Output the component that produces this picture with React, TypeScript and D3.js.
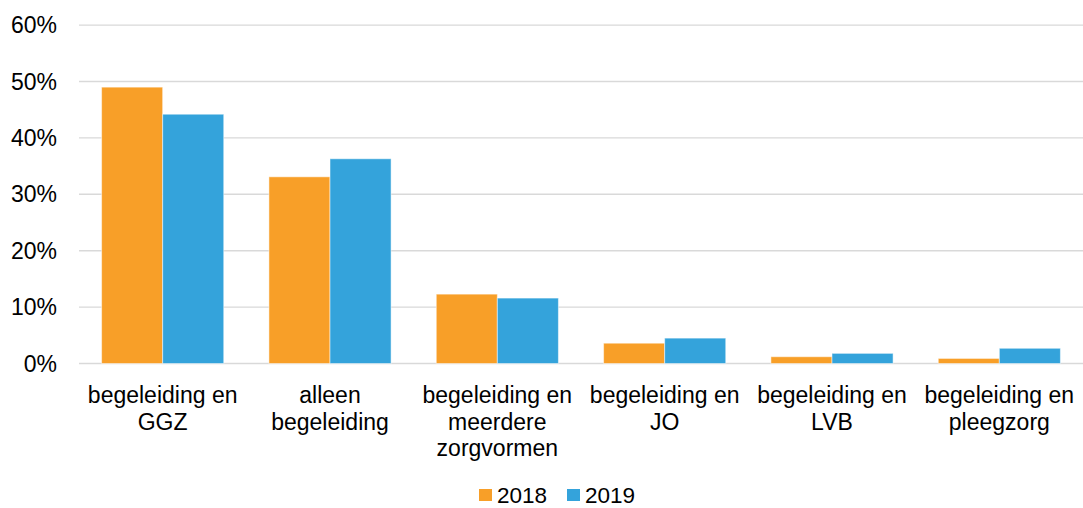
import React from "react";
import * as d3 from "d3";

// Data
const categories = [
  ["begeleiding en", "GGZ"],
  ["alleen", "begeleiding"],
  ["begeleiding en", "meerdere", "zorgvormen"],
  ["begeleiding en", "JO"],
  ["begeleiding en", "LVB"],
  ["begeleiding en", "pleegzorg"],
];
const seriesNames = ["2018", "2019"];
const values2018 = [0.49, 0.331, 0.123, 0.036, 0.012, 0.009];
const values2019 = [0.442, 0.363, 0.116, 0.045, 0.018, 0.027];
const yTicks = [0, 0.1, 0.2, 0.3, 0.4, 0.5, 0.6];

const colors = ["#F89F28", "#34A3DB"];
const font = "'Liberation Sans', Arial, sans-serif";

const width = 1083;
const height = 508;

const App = () => {
  const keys = categories.map((c) => c.join(" "));
  const series = [values2018, values2019];

  // Scales
  const x0 = d3
    .scaleBand()
    .domain(keys)
    .range([79, 1083])
    .paddingInner(0.27)
    .paddingOuter(0.135);
  const x1 = d3
    .scaleBand()
    .domain(seriesNames)
    .range([0, x0.bandwidth()]);
  const y = d3.scaleLinear().domain([0, 0.6]).range([363.5, 25.1]);
  const fmt = d3.format(".0%");

  return (
    <svg
      width={width}
      height={height}
      style={{ position: "absolute", left: 0, top: 0, background: "#fff" }}
      fontFamily={font}
    >
      {/* gridlines */}
      {yTicks.map((t) => (
        <line
          key={t}
          x1={79}
          x2={1083}
          y1={y(t)}
          y2={y(t)}
          stroke="#d9d9d9"
          strokeWidth={1.4}
        />
      ))}
      {/* y tick labels */}
      {yTicks.map((t) => (
        <text
          key={"l" + t}
          x={57}
          y={y(t)}
          textAnchor="end"
          dominantBaseline="central"
          fontSize={23}
          fill="#000"
        >
          {fmt(t)}
        </text>
      ))}
      {/* bars */}
      {keys.map((k, i) => (
        <g key={k} transform={`translate(${x0(k)},0)`}>
          {seriesNames.map((s, j) => (
            <rect
              key={s}
              x={x1(s)}
              y={y(series[j][i])}
              width={x1.bandwidth()}
              height={y(0) - y(series[j][i])}
              fill={colors[j]}
              stroke="#ffffff"
              strokeOpacity={0.5}
              strokeWidth={1}
            />
          ))}
        </g>
      ))}
      {/* category labels */}
      {categories.map((lines, i) => (
        <text
          key={"c" + i}
          x={(x0(keys[i]) as number) + x0.bandwidth() / 2}
          y={403}
          textAnchor="middle"
          fontSize={23}
          fill="#000"
        >
          {lines.map((l, li) => (
            <tspan
              key={li}
              x={(x0(keys[i]) as number) + x0.bandwidth() / 2}
              dy={li === 0 ? 0 : 26.5}
            >
              {l}
            </tspan>
          ))}
        </text>
      ))}
      {/* legend */}
      {seriesNames.map((s, j) => (
        <g key={"lg" + s} transform={`translate(${479 + j * 88},0)`}>
          <rect x={0} y={489} width={13} height={12} fill={colors[j]} />
          <text x={18} y={502.5} fontSize={22.5} fill="#000">
            {s}
          </text>
        </g>
      ))}
    </svg>
  );
};

export default App;
